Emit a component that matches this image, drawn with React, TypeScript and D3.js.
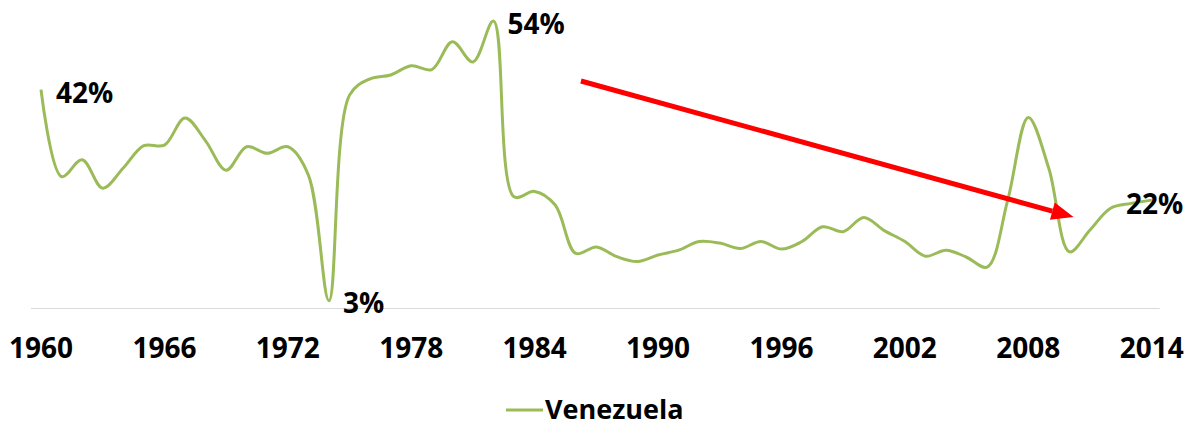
import { useEffect, useRef } from "react";
import * as d3 from "d3";

const years = d3.range(1960, 2015);
const values = [
  42, 26, 29.1, 23.9, 27.6, 31.7, 31.8, 36.8, 32.6, 27.2,
  31.5, 30.3, 31.5, 26.3, 3.2, 41, 44, 44.7, 46.4, 45.7,
  50.8, 47.1, 54.6, 22.3, 23.3, 20.8, 11.9, 13.1, 11.3, 10.4,
  11.6, 12.5, 14.1, 13.8, 12.8, 14.1, 12.7, 14.1, 16.8, 15.9,
  18.5, 16.1, 14.1, 11.4, 12.5, 11.2, 9.4, 21.7, 36.9, 27.5,
  12.2, 16.2, 20.2, 21.1, 21.7,
];
const tickYears = [1960, 1966, 1972, 1978, 1984, 1990, 1996, 2002, 2008, 2014];
const callouts = [
  { year: 1960, text: "42%", dx: 15, dy: 13, anchor: "start" },
  { year: 1982, text: "54%", dx: 14, dy: 13, anchor: "start" },
  { year: 1974, text: "3%", dx: 14, dy: 12, anchor: "start" },
  { year: 2014, text: "22%", dx: 3, dy: 14, anchor: "middle" },
];
// trend arrow, in data units
const arrowFrom = { year: 1986.25, value: 43.6 };
const arrowTo = { year: 2010.2, value: 18.6 };
const seriesName = "Venezuela";

export default function App() {
  const ref = useRef<SVGSVGElement>(null);

  useEffect(() => {
    if (!ref.current) return;
    const width = 1199;
    const height = 428;
    const font = "'Open Sans', 'Noto Sans', sans-serif";

    const svg = d3.select(ref.current);
    svg.selectAll("*").remove();

    const x = d3.scaleLinear().domain([1960, 2014]).range([41, 1151.7]);
    const y = d3.scaleLinear().domain([2, 56]).range([307.3, 13.5]);

    // floor line
    svg
      .append("line")
      .attr("x1", x.range()[0] - 10)
      .attr("x2", x.range()[1] + 8)
      .attr("y1", 308.5)
      .attr("y2", 308.5)
      .attr("stroke", "#d9d9d9")
      .attr("stroke-width", 1.2);

    const line = d3
      .line<number>()
      .x((_, i) => x(years[i]))
      .y((d) => y(d))
      .curve(d3.curveCatmullRom.alpha(0.5));

    svg
      .append("path")
      .datum(values)
      .attr("d", line)
      .attr("fill", "none")
      .attr("stroke", "#9bbb59")
      .attr("stroke-width", 3)
      .attr("stroke-linejoin", "round");

    // arrow
    const x1 = x(arrowFrom.year);
    const y1 = y(arrowFrom.value);
    const x2 = x(arrowTo.year);
    const y2 = y(arrowTo.value);
    const ang = Math.atan2(y2 - y1, x2 - x1);
    const headLen = 22;
    const headW = 9;
    const bx = x2 - headLen * Math.cos(ang);
    const by = y2 - headLen * Math.sin(ang);
    svg
      .append("line")
      .attr("x1", x1)
      .attr("y1", y1)
      .attr("x2", bx)
      .attr("y2", by)
      .attr("stroke", "#ff0000")
      .attr("stroke-width", 5);
    svg
      .append("path")
      .attr(
        "d",
        `M${x2},${y2}L${bx + headW * Math.sin(ang)},${by - headW * Math.cos(ang)}L${
          bx - headW * Math.sin(ang)
        },${by + headW * Math.cos(ang)}Z`
      )
      .attr("fill", "#ff0000");

    // callouts
    svg
      .selectAll("text.callout")
      .data(callouts)
      .enter()
      .append("text")
      .attr("class", "callout")
      .attr("x", (d) => x(d.year) + d.dx)
      .attr("y", (d) => y(values[years.indexOf(d.year)]) + d.dy)
      .attr("text-anchor", (d) => d.anchor)
      .attr("font-family", font)
      .attr("font-weight", 700)
      .attr("font-size", 28)
      .attr("fill", "#000")
      .text((d) => d.text);

    // x tick labels
    svg
      .selectAll("text.tick")
      .data(tickYears)
      .enter()
      .append("text")
      .attr("class", "tick")
      .attr("x", (d) => x(d))
      .attr("y", 358)
      .attr("text-anchor", "middle")
      .attr("font-family", font)
      .attr("font-weight", 700)
      .attr("font-size", 28)
      .attr("fill", "#000")
      .text((d) => d);

    // legend
    const lg = svg.append("g");
    lg.append("line")
      .attr("x1", 506)
      .attr("x2", 543)
      .attr("y1", 410)
      .attr("y2", 410)
      .attr("stroke", "#9bbb59")
      .attr("stroke-width", 3);
    lg.append("text")
      .attr("x", 545)
      .attr("y", 419)
      .attr("font-family", font)
      .attr("font-weight", 700)
      .attr("font-size", 27)
      .attr("fill", "#000")
      .text(seriesName);

    svg.attr("width", width).attr("height", height);
  }, []);

  return (
    <svg
      ref={ref}
      width={1199}
      height={428}
      style={{ position: "absolute", left: 0, top: 0, background: "#fff" }}
    />
  );
}
